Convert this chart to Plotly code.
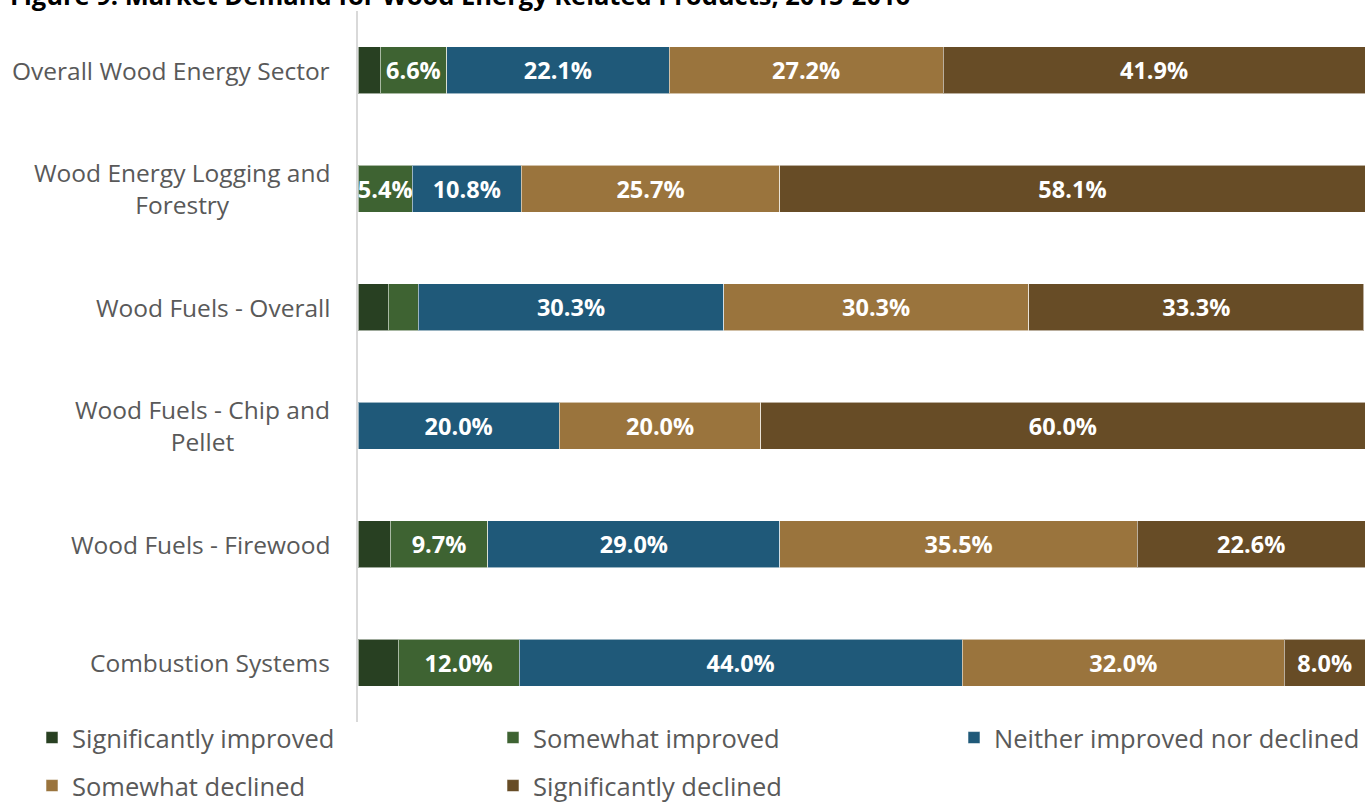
import plotly.graph_objects as go

categories = [
    "Overall Wood Energy Sector",
    "Wood Energy Logging and<br>Forestry",
    "Wood Fuels - Overall",
    "Wood Fuels - Chip and<br>Pellet",
    "Wood Fuels - Firewood",
    "Combustion Systems",
]
series_names = [
    "Significantly improved",
    "Somewhat improved",
    "Neither improved nor declined",
    "Somewhat declined",
    "Significantly declined",
]
sig_improved = [2.2, 0.0, 3.0, 0.0, 3.2, 4.0]
some_improved = [6.6, 5.4, 3.0, 0.0, 9.7, 12.0]
neither = [22.1, 10.8, 30.3, 20.0, 29.0, 44.0]
some_declined = [27.2, 25.7, 30.3, 20.0, 35.5, 32.0]
sig_declined = [41.9, 58.1, 33.3, 60.0, 22.6, 8.0]
# which segments carry a printed value
labelled = [
    [False, False, False, False, False, False],
    [True, True, False, False, True, True],
    [True, True, True, True, True, True],
    [True, True, True, True, True, True],
    [True, True, True, True, True, True],
]
colors = ["#284022", "#3e6332", "#1f5979", "#9a743d", "#674c26"]

series_values = [sig_improved, some_improved, neither, some_declined, sig_declined]

W, H = 1365, 803
L, R, T, B = 358, 0, 11, 81
plot_w = W - L - R
plot_h = H - T - B

# legend slots: (left px, centre row px)
legend_slots = [(32, 738), (493, 738), (954, 738), (32, 786), (493, 786)]
legend_ids = ["legend", "legend2", "legend3", "legend4", "legend5"]

fig = go.Figure()
for i, (name, vals) in enumerate(zip(series_names, series_values)):
    texts = [f"{v:.1f}%" if (labelled[i][j] and v > 0) else "" for j, v in enumerate(vals)]
    fig.add_trace(go.Bar(
        y=categories, x=vals, name=name, orientation="h",
        marker=dict(color=colors[i], line=dict(color="rgba(255,255,255,0.55)", width=1)),
        text=texts, textposition="inside", insidetextanchor="middle",
        textangle=0, constraintext="none", cliponaxis=False,
        textfont=dict(family="Open Sans", size=23.5, color="white", weight="bold"),
        hoverinfo="skip",
        legend=legend_ids[i],
    ))

# category labels, wrapped text centred within the block
for c in categories:
    fig.add_annotation(
        x=0, xref="paper", y=c, yref="y", xanchor="right", xshift=-26,
        text=c, showarrow=False, align="center",
        font=dict(family="Open Sans", size=24.5, color="#595959"),
    )

# chart title, partly above the top edge
fig.add_annotation(
    x=(8 - L) / plot_w, xref="paper", y=1 + (T + 5) / plot_h, yref="paper",
    xanchor="left", yanchor="middle", showarrow=False,
    text="<b>Figure 9: Market Demand for Wood Energy Related Products, 2015-2016</b>",
    font=dict(family="Open Sans", size=25.5, color="#000000"),
)

legend_common = dict(
    orientation="h", xanchor="left", yanchor="middle",
    font=dict(family="Open Sans", size=25.5, color="#595959"),
    bgcolor="rgba(0,0,0,0)", itemclick=False, itemdoubleclick=False,
)
legend_layout = {}
for lid, (px, py) in zip(legend_ids, legend_slots):
    legend_layout[lid] = dict(x=(px - L) / plot_w, y=(T + plot_h - py) / plot_h, **legend_common)

fig.update_layout(
    width=W, height=H,
    margin=dict(l=L, r=R, t=T, b=B, pad=0, autoexpand=False),
    paper_bgcolor="white", plot_bgcolor="white",
    barmode="stack", bargap=0.6,
    showlegend=True,
    uniformtext=dict(minsize=23, mode="show"),
    xaxis=dict(range=[0, 100], visible=False, fixedrange=True),
    yaxis=dict(
        autorange="reversed", showticklabels=False, ticks="",
        showline=True, linecolor="#d9d9d9", linewidth=2,
        showgrid=False, zeroline=False, fixedrange=True,
    ),
    **legend_layout,
)

fig.write_html("out.html")
